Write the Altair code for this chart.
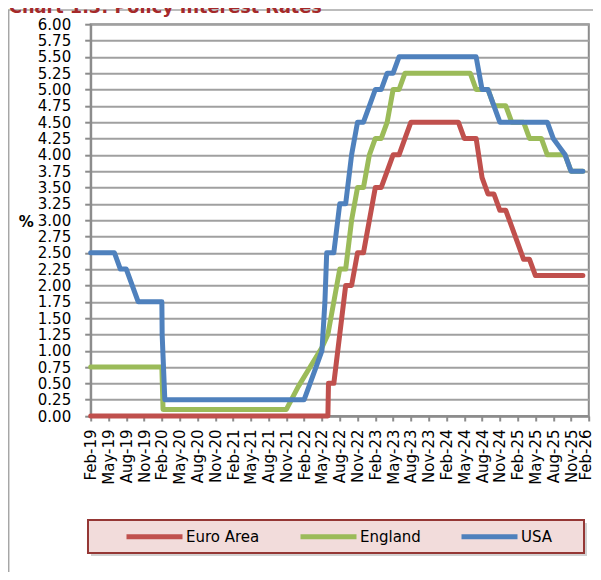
import altair as alt
import pandas as pd

# ---------------- data ----------------
series_names = ["Euro Area", "England", "USA"]
series_colors = ["#c0504d", "#9bbb59", "#4f81bd"]

# x positions are months counted from Feb-19 (0) to Feb-26 (84)
x_tick_months = [0, 3, 6, 9, 12, 15, 18, 21, 24, 27, 30, 33, 36, 39, 42,
                 45, 48, 51, 54, 57, 60, 63, 66, 69, 72, 75, 78, 81, 84]
x_tick_labels = ["Feb-19", "May-19", "Aug-19", "Nov-19", "Feb-20", "May-20",
                 "Aug-20", "Nov-20", "Feb-21", "May-21", "Aug-21", "Nov-21",
                 "Feb-22", "May-22", "Aug-22", "Nov-22", "Feb-23", "May-23",
                 "Aug-23", "Nov-23", "Feb-24", "May-24", "Aug-24", "Nov-24",
                 "Feb-25", "May-25", "Aug-25", "Nov-25", "Feb-26"]
y_tick_values = [0.00, 0.25, 0.50, 0.75, 1.00, 1.25, 1.50, 1.75, 2.00, 2.25,
                 2.50, 2.75, 3.00, 3.25, 3.50, 3.75, 4.00, 4.25, 4.50, 4.75,
                 5.00, 5.25, 5.50, 5.75, 6.00]

euro_month = [0, 40, 40.1, 41, 43, 44, 45, 46, 48, 49, 50, 51, 52, 53, 54,
              62, 63, 65, 66, 67, 68, 69, 70, 71, 72, 73, 74, 75, 83]
euro_rate = [0.00, 0.00, 0.50, 0.50, 2.00, 2.00, 2.50, 2.50, 3.50, 3.50, 3.75,
             4.00, 4.00, 4.25, 4.50, 4.50, 4.25, 4.25, 3.65, 3.40, 3.40, 3.15,
             3.15, 2.90, 2.65, 2.40, 2.40, 2.15, 2.15]

england_month = [0, 12, 12.2, 33, 35, 37, 38, 39, 40, 42, 43, 44, 45, 46, 47,
                 48, 49, 50, 51, 52, 53, 64, 65, 67, 68, 70, 71, 73, 74, 76,
                 77, 80, 81, 83]
england_rate = [0.75, 0.75, 0.10, 0.10, 0.45, 0.75, 0.90, 1.05, 1.25, 2.25,
                2.25, 3.00, 3.50, 3.50, 4.00, 4.25, 4.25, 4.50, 5.00, 5.00,
                5.25, 5.25, 5.00, 5.00, 4.75, 4.75, 4.50, 4.50, 4.25, 4.25,
                4.00, 4.00, 3.75, 3.75]

usa_month = [0, 4, 5, 6, 7, 8, 12, 12.05, 12.5, 36, 37, 38, 39, 39.5, 39.8,
             41, 42, 43, 44, 45, 46, 47, 48, 49, 50, 51, 52, 65, 66, 67, 68,
             69, 77, 78, 79, 80, 81, 83]
usa_rate = [2.50, 2.50, 2.25, 2.25, 2.00, 1.75, 1.75, 1.25, 0.25, 0.25, 0.50,
            0.75, 1.00, 1.75, 2.50, 2.50, 3.25, 3.25, 4.00, 4.50, 4.50, 4.75,
            5.00, 5.00, 5.25, 5.25, 5.50, 5.50, 5.00, 5.00, 4.75, 4.50, 4.50,
            4.25, 4.125, 4.00, 3.75, 3.75]

title_text = "Chart 1.3: Policy Interest Rates"

# ---------------- build tables ----------------
frames = []
for name, ms, vs in [("Euro Area", euro_month, euro_rate),
                     ("England", england_month, england_rate),
                     ("USA", usa_month, usa_rate)]:
    frames.append(pd.DataFrame({"month": ms, "rate": vs, "series": name,
                                "seq": list(range(len(ms)))}))

FONT = "DejaVu Sans"
GRID = "#a0a0a0"
AXIS = "#8c8c8c"

# plot area origin on the page: (90.7, 24.2)
OX, OY = 90.7, 24.2
W, H = 498.1, 391.8
SVG_W, SVG_H = 585, 564

label_expr = "[" + ",".join("'%s'" % s for s in x_tick_labels) + "][round(datum.value/3)]"

x_enc = alt.X("month:Q",
              scale=alt.Scale(domain=[0, 84], nice=False, zero=False),
              axis=alt.Axis(values=x_tick_months, labelExpr=label_expr,
                            labelAngle=-90, labelAlign="right",
                            labelBaseline="middle", labelFont=FONT,
                            labelFontSize=15, labelColor="#000000",
                            labelPadding=8, labelFlush=False,
                            labelOffset={"condition": {"test": "datum.value == 84",
                                                       "value": -3},
                                         "value": 0},
                            labelOverlap=False, tickSize=5, tickColor=AXIS,
                            tickWidth=2, domainColor=AXIS, domainWidth=2,
                            grid=False, title=None))
y_enc = alt.Y("rate:Q",
              scale=alt.Scale(domain=[0, 6], nice=False),
              axis=alt.Axis(values=y_tick_values, format=".2f",
                            labelFont=FONT, labelFontSize=15,
                            labelColor="#000000", labelPadding=14,
                            labelFlush=False, labelOverlap=False,
                            tickSize=6, tickColor=AXIS, tickWidth=2,
                            domainColor=AXIS, domainWidth=2,
                            grid=True, gridColor=GRID, gridWidth=2,
                            title="%", titleAngle=0, titleFont=FONT,
                            titleFontSize=15, titleFontWeight="bold",
                            titleColor="#000000", titleAlign="center",
                            titleBaseline="middle",
                            titleX=25.8 - OX, titleY=221 - OY))
color_enc = alt.Color("series:N",
                      scale=alt.Scale(domain=series_names, range=series_colors),
                      legend=alt.Legend(title=None, orient="none",
                                        direction="horizontal",
                                        legendX=124 - OX, legendY=506 - OY,
                                        symbolType="stroke",
                                        symbolStrokeWidth=5, symbolSize=3136,
                                        labelFont=FONT, labelFontSize=15,
                                        labelColor="#000000", labelOffset=1,
                                        columnPadding=30, padding=0))

one = pd.DataFrame({"k": [0]})

outer_box = alt.Chart(one).mark_rect(fillOpacity=0, stroke="#a6a6a6",
                                     strokeWidth=1.5).encode(
    x=alt.value(8.7 - OX), x2=alt.value(700), y=alt.value(10 - OY),
    y2=alt.value(800))

legend_shadow = alt.Chart(one).mark_rect(fill="#9a9a9a", opacity=0.45).encode(
    x=alt.value(91 - OX), x2=alt.value(587 - OX), y=alt.value(523 - OY),
    y2=alt.value(556 - OY))

legend_box = alt.Chart(one).mark_rect(fill="#f2dcdb", stroke="#953735",
                                      strokeWidth=2).encode(
    x=alt.value(88 - OX), x2=alt.value(584 - OX), y=alt.value(520 - OY),
    y2=alt.value(553 - OY))

title = alt.Chart(one).mark_text(align="left", baseline="alphabetic",
                                 font=FONT, fontWeight="bold", fontSize=17.7,
                                 color="#a5292a").encode(
    x=alt.value(9 - OX), y=alt.value(13 - OY), text=alt.value(title_text))

line_layers = []
for f in frames:
    line_layers.append(
        alt.Chart(f).mark_line(strokeWidth=5, strokeJoin="round",
                               strokeCap="round").encode(
            x=x_enc, y=y_enc, color=color_enc, order="seq:Q"))

chart = alt.layer(outer_box, legend_shadow, legend_box, title,
                  *line_layers).properties(
    width=W, height=H,
    autosize=alt.AutoSizeParams(type="none"),
    padding={"left": OX - 8, "top": OY - 8,
             "right": SVG_W - (OX - 8) - W, "bottom": SVG_H - (OY - 8) - H},
    background="#ffffff",
).configure_view(stroke=AXIS, strokeWidth=2)

chart.save("out.html", embed_options={"renderer": "svg", "actions": False})
